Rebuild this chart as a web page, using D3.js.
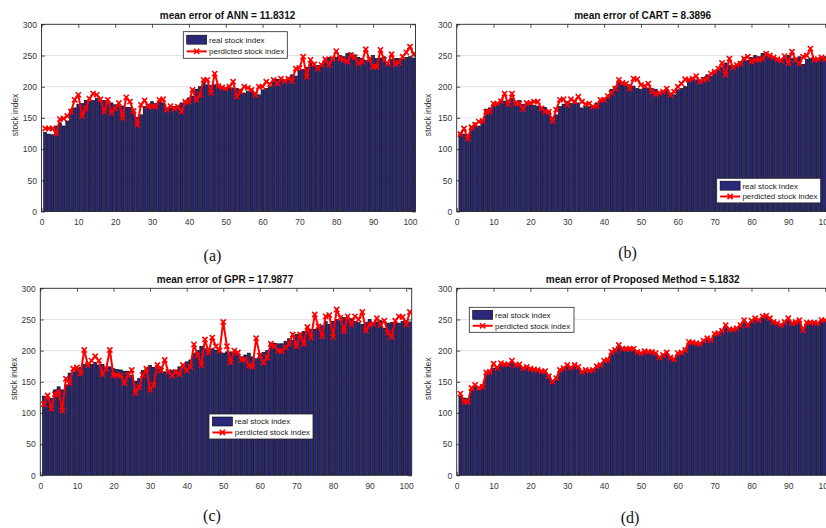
<!DOCTYPE html>
<html><head><meta charset="utf-8">
<script src="https://cdn.jsdelivr.net/npm/d3@7"></script>
<style>body{margin:0;background:#fff}svg{display:block}</style>
</head><body>
<svg id="chart" width="826" height="528"></svg>
<script>
// ---------- data ----------
const realIndex = [127,124,123,137,142,137,145,164,166,172,
  173,178,177,178,181,177,178,172,174,171,
  170,169,167,167,160,151,155,168,172,176,
  173,176,174,166,168,168,169,174,177,182,
  185,196,200,207,203,202,203,201,197,196,
  198,198,197,196,190,193,196,190,187,195,
  197,200,212,212,211,211,215,219,217,226,
  228,231,238,234,234,236,240,247,242,247,
  250,248,253,254,251,247,245,242,245,250,
  245,246,248,236,244,245,245,244,247,248,
  246];
const predANN = [133,133,133,125,148,149,153,160,179,187,
  153,165,181,189,187,180,160,179,158,165,
  174,150,183,176,161,139,171,178,168,169,
  168,179,180,163,169,165,168,160,176,176,
  195,179,187,211,211,190,221,201,199,197,
  200,208,184,192,200,198,195,187,200,200,
  208,204,211,205,213,209,213,209,229,230,
  248,216,243,236,229,235,244,235,245,257,
  245,243,240,251,247,237,240,260,244,232,
  232,259,243,237,252,236,239,248,255,264,
  252];
const predCART = [124,133,117,135,139,144,145,160,160,173,
  173,177,189,172,189,173,173,164,174,174,
  176,176,165,160,160,145,163,179,180,171,
  180,176,184,176,172,173,168,169,179,179,
  185,190,197,211,206,205,197,213,212,203,
  201,205,192,188,190,192,197,187,192,200,
  205,212,211,213,217,208,211,213,221,224,
  229,238,219,245,231,235,237,245,248,240,
  243,243,245,253,250,247,244,242,249,238,
  256,243,237,248,250,261,243,244,247,244,
  244];
const predGPR = [114,128,107,130,134,104,155,148,171,173,
  163,201,177,184,191,184,162,171,201,160,
  161,160,148,161,169,132,141,161,171,137,
  145,177,168,185,166,160,166,162,177,168,
  174,210,193,177,218,197,221,207,200,246,
  207,181,200,197,185,186,176,174,220,192,
  181,189,211,207,200,199,205,211,226,207,
  226,211,238,221,258,239,223,255,257,222,
  266,253,231,255,242,255,250,262,232,242,
  243,252,241,248,229,222,248,255,254,242,
  262];
const predProposed = [131,118,118,140,145,140,142,165,166,179,
  172,180,178,178,184,177,178,172,174,171,
  170,169,167,167,159,150,156,169,172,177,
  173,177,174,166,169,168,169,175,177,184,
  185,198,201,209,203,203,203,203,198,196,
  199,198,198,196,189,193,197,189,186,196,
  197,201,214,213,212,211,216,220,217,227,
  228,232,241,234,234,236,241,249,241,248,
  252,249,255,256,252,246,244,241,246,252,
  244,246,249,233,245,245,245,244,249,249,
  247];
const xTickValues = [0,10,20,30,40,50,60,70,80,90,100];
const yTickValues = [0,50,100,150,200,250,300];
const panelTitles = ["mean error of ANN = 11.8312","mean error of CART = 8.3896",
  "mean error of GPR = 17.9877","mean error of Proposed Method = 5.1832"];
const panelLetters = ["(a)","(b)","(c)","(d)"];
const legendLabels = ["real stock index","perdicted stock index"];
const yAxisLabel = "stock index";
const predictions = [predANN, predCART, predGPR, predProposed];

// ---------- layout ----------
const layouts = [
  {x0:41.5, x1:415.5, yTop:24.3, yBot:211.5, leg:[183.3,31.7,104,26.6], letter:[212.5,261], ylab:15},
  {x0:456.7, x1:830.7, yTop:24.3, yBot:211.5, leg:[716.7,178.3,104,24.6], letter:[627.5,258], ylab:428.5},
  {x0:40.3, x1:411.7, yTop:288.3, yBot:475.3, leg:[209,414,104,25], letter:[212,521], ylab:14},
  {x0:456.7, x1:830.7, yTop:288.3, yBot:475.3, leg:[469.3,307.3,104.7,25], letter:[630,523], ylab:428.5}
];
const barFill = "#2b287c";
const red = "#ff0000";
const font = "'Liberation Sans', Arial, Helvetica, sans-serif";
const svg = d3.select("#chart");
const indices = d3.range(1, realIndex.length + 1);
const xMark = "M-2.6,-2.6L2.6,2.6M-2.6,2.6L2.6,-2.6";

predictions.forEach((pred, p) => {
  const L = layouts[p];
  const g = svg.append("g");
  const x = d3.scaleLinear().domain([0, 101.5]).range([L.x0, L.x1]);
  const y = d3.scaleLinear().domain([0, 300]).range([L.yBot, L.yTop]);
  const clipId = "clip" + p;
  svg.append("clipPath").attr("id", clipId).append("rect")
    .attr("x", L.x0).attr("y", L.yTop).attr("width", L.x1 - L.x0).attr("height", L.yBot - L.yTop);

  // grid
  g.append("g").selectAll("line").data(yTickValues.slice(1, -1)).join("line")
    .attr("x1", L.x0).attr("x2", L.x1).attr("y1", d => y(d)).attr("y2", d => y(d))
    .attr("stroke", "#e3e3e3").attr("stroke-width", 1);

  const plot = g.append("g").attr("clip-path", `url(#${clipId})`);
  const bw = x(0.8) - x(0);
  plot.append("g").selectAll("rect").data(indices).join("rect")
    .attr("x", i => x(i) - bw / 2).attr("width", bw)
    .attr("y", i => y(realIndex[i - 1])).attr("height", i => y(0) - y(realIndex[i - 1]))
    .attr("fill", barFill).attr("stroke", "#000").attr("stroke-width", 0.65);

  const line = d3.line().x(i => x(i)).y(i => y(pred[i - 1]));
  plot.append("path").datum(indices).attr("d", line)
    .attr("fill", "none").attr("stroke", red).attr("stroke-width", 2).attr("stroke-linejoin", "round");
  plot.append("g").selectAll("path").data(indices).join("path")
    .attr("d", xMark).attr("transform", i => `translate(${x(i)},${y(pred[i - 1])})`)
    .attr("stroke", red).attr("stroke-width", 1.6).attr("fill", "none");

  // axes
  const styleAxis = sel => {
    sel.select(".domain").remove();
    sel.selectAll("line").attr("stroke", "#262626").attr("stroke-width", 0.8);
    sel.selectAll("text").attr("fill", "#383838").attr("font-family", font).attr("font-size", "8.5px");
  };
  g.append("g").attr("transform", `translate(0,${L.yBot})`)
    .call(d3.axisBottom(x).tickValues(xTickValues).tickSizeInner(-3.5).tickSizeOuter(0).tickPadding(7.5))
    .call(styleAxis);
  g.append("g").attr("transform", `translate(0,${L.yTop})`)
    .call(d3.axisTop(x).tickValues(xTickValues).tickSizeInner(-3.5).tickSizeOuter(0).tickFormat(""))
    .call(styleAxis);
  g.append("g").attr("transform", `translate(${L.x0},0)`)
    .call(d3.axisLeft(y).tickValues(yTickValues).tickSizeInner(-3.5).tickSizeOuter(0).tickPadding(4.5))
    .call(styleAxis);
  g.append("g").attr("transform", `translate(${L.x1},0)`)
    .call(d3.axisRight(y).tickValues(yTickValues).tickSizeInner(-3.5).tickSizeOuter(0).tickFormat(""))
    .call(styleAxis);
  g.append("rect").attr("x", L.x0).attr("y", L.yTop).attr("width", L.x1 - L.x0).attr("height", L.yBot - L.yTop)
    .attr("fill", "none").attr("stroke", "#262626").attr("stroke-width", 0.9);

  // title
  g.append("text").attr("x", (L.x0 + L.x1) / 2 - 1).attr("y", L.yTop - 5.5)
    .attr("text-anchor", "middle").attr("font-family", font).attr("font-weight", "bold")
    .attr("font-size", "10px").attr("fill", "#111").text(panelTitles[p]);

  // y label
  g.append("text").attr("transform", `translate(${L.ylab},${(L.yTop + L.yBot) / 2 - 3}) rotate(-90)`)
    .attr("dy", "0.35em").attr("text-anchor", "middle").attr("font-family", font)
    .attr("font-size", "8.5px").attr("fill", "#383838").text(yAxisLabel);

  // legend
  const [lx, ly, lw, lh] = L.leg;
  const lg = g.append("g");
  lg.append("rect").attr("x", lx).attr("y", ly).attr("width", lw).attr("height", lh)
    .attr("fill", "#fff").attr("stroke", "#262626").attr("stroke-width", 0.8);
  const r1 = ly + lh * 0.3, r2 = ly + lh * 0.74;
  lg.append("rect").attr("x", lx + 3.4).attr("y", r1 - 4.5).attr("width", 20).attr("height", 9)
    .attr("fill", barFill).attr("stroke", "#000").attr("stroke-width", 0.6);
  lg.append("line").attr("x1", lx + 3.4).attr("x2", lx + 23.4).attr("y1", r2).attr("y2", r2)
    .attr("stroke", red).attr("stroke-width", 2);
  lg.append("path").attr("d", xMark).attr("transform", `translate(${lx + 13.4},${r2})`)
    .attr("stroke", red).attr("stroke-width", 1.6);
  lg.selectAll("text.lab").data(legendLabels).join("text").attr("class", "lab")
    .attr("x", lx + 25.7).attr("y", (d, k) => (k ? r2 : r1) + 2.9)
    .attr("font-family", font).attr("font-size", "8px").attr("fill", "#222").text(d => d);

  // panel letter
  g.append("text").attr("x", L.letter[0]).attr("y", L.letter[1]).attr("text-anchor", "middle")
    .attr("font-family", "'Liberation Serif', 'Times New Roman', serif").attr("font-size", "16px")
    .attr("fill", "#111").text(panelLetters[p]);
});
</script>
</body></html>
